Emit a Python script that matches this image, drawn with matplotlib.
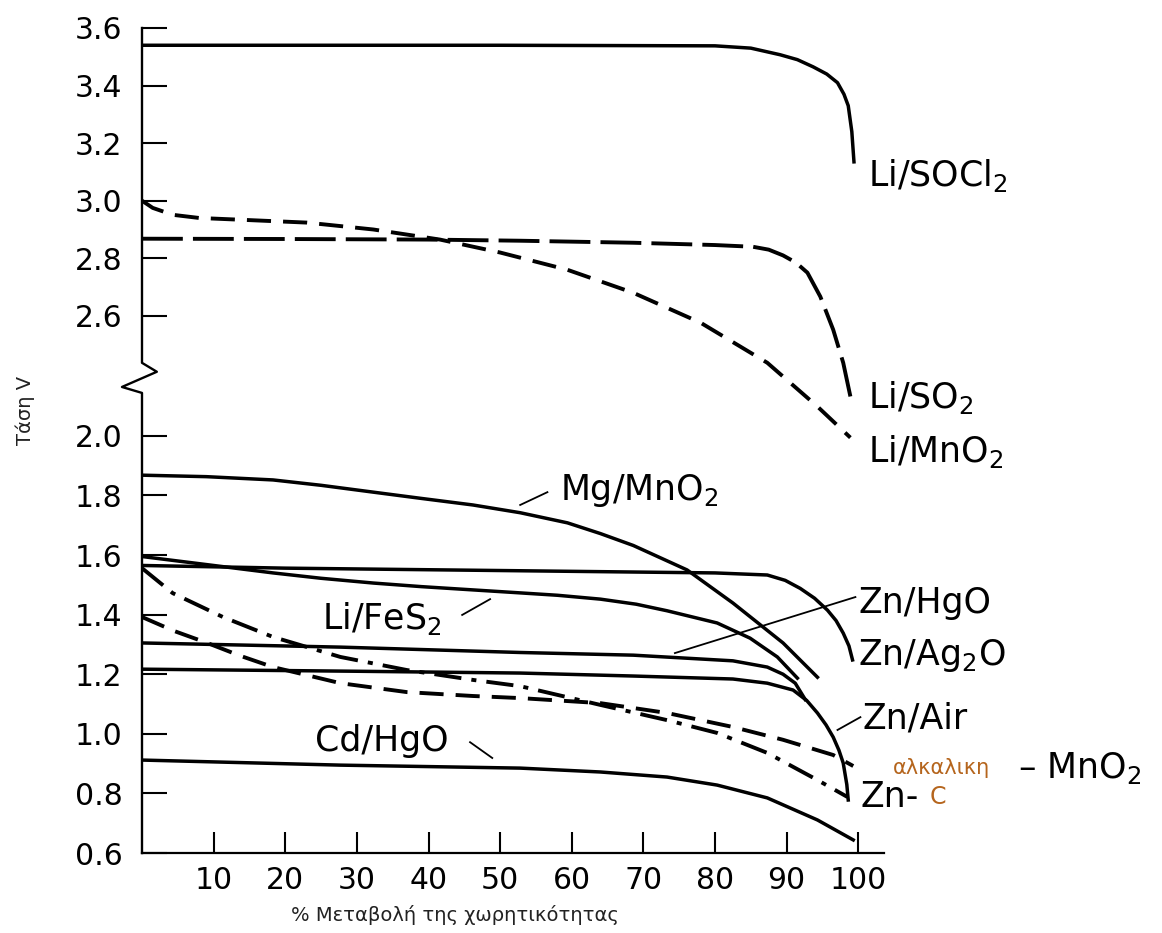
"""
Discharge curves of primary cells — voltage vs % of capacity used.
The y axis is broken between 2.0 V and 2.6 V; the upper curves are
mapped onto the shared axis with upper().
"""

import matplotlib
matplotlib.use("Agg")
import matplotlib.pyplot as plt
import matplotlib.transforms as mtransforms

# ── data (x = % of capacity, v = volts) ──────────────────────────────────────
socl2_x = [0, 50, 80, 85, 89.1, 91.5, 93.7, 95.6, 97.1, 98.0, 98.6, 99.1, 99.4]
socl2_v = [3.54, 3.54, 3.538, 3.53, 3.507, 3.49, 3.465, 3.44, 3.41, 3.37, 3.33, 3.24, 3.135]

so2_x = [0, 20, 40, 52.8, 68.6, 80, 85.3, 87.5, 89.5, 91.3, 92.9, 94.7, 96.5, 97.9, 98.9]
so2_v = [2.868, 2.867, 2.865, 2.861, 2.854, 2.846, 2.84, 2.83, 2.81, 2.785, 2.75, 2.667,
         2.552, 2.437, 2.32]

limno2_x = [0, 1.5, 4.3, 8, 13.7, 23, 32.3, 41.6, 50, 59.4, 68.6, 78, 87.3, 94.3, 98.9]
limno2_v = [3.0, 2.975, 2.951, 2.94, 2.934, 2.924, 2.90, 2.865, 2.82, 2.76, 2.68, 2.576,
            2.437, 2.285, 2.177]

mg_x = [0, 9, 18.3, 25, 32.3, 39, 46.2, 52.8, 59.4, 64, 68.6, 76.1, 82.5, 89.5, 94.3]
mg_v = [1.868, 1.863, 1.852, 1.834, 1.811, 1.79, 1.768, 1.742, 1.708, 1.672, 1.632, 1.55,
        1.439, 1.305, 1.19]

ag2o_x = [0, 20, 50, 68.6, 80, 87.3, 89.8, 91.9, 93.9, 95.7, 96.9, 97.9, 98.7, 99.2]
ag2o_v = [1.565, 1.556, 1.548, 1.543, 1.54, 1.533, 1.515, 1.488, 1.455, 1.415, 1.38,
          1.338, 1.295, 1.248]

fes2_x = [0, 5, 10, 18.3, 25, 32.3, 39, 46.2, 52.8, 58, 64, 69, 73.3, 80.3, 84.9, 88.7, 91.5]
fes2_v = [1.595, 1.58, 1.565, 1.54, 1.522, 1.506, 1.494, 1.483, 1.473, 1.465, 1.452, 1.435,
          1.413, 1.372, 1.321, 1.258, 1.187]

hgo_x = [0, 27.7, 52.8, 68.6, 82.5, 87.3, 89.5, 91.2, 92.6]
hgo_v = [1.305, 1.291, 1.273, 1.264, 1.245, 1.224, 1.20, 1.17, 1.115]

air_x = [0, 30, 52.8, 68.6, 82.5, 87.3, 90.9, 92.8, 94.3, 95.5, 96.5, 97.3, 97.9, 98.4, 98.6]
air_v = [1.217, 1.21, 1.204, 1.194, 1.184, 1.17, 1.147, 1.112, 1.07, 1.03, 0.989, 0.945,
         0.902, 0.83, 0.778]

cd_x = [0, 27.7, 52.8, 64, 73.3, 80.3, 87.3, 94.3, 99.3]
cd_v = [0.912, 0.895, 0.885, 0.872, 0.855, 0.828, 0.785, 0.711, 0.644]

alk_x = [0, 4.5, 9.1, 13.7, 18.3, 27.7, 37, 46.2, 52.8, 64, 73.3, 82.5, 89.5, 96.5, 99.3]
alk_v = [1.392, 1.345, 1.305, 1.262, 1.224, 1.17, 1.14, 1.127, 1.12, 1.103, 1.07, 1.023,
         0.98, 0.929, 0.892]

znc_x = [0, 4.3, 11.3, 18.3, 27.7, 37, 46.2, 52.8, 64, 73.3, 80.3, 87.3, 94.3, 98.5]
znc_v = [1.556, 1.472, 1.392, 1.325, 1.258, 1.214, 1.181, 1.16, 1.097, 1.046, 1.003,
         0.936, 0.845, 0.788]

x_ticks = [10, 20, 30, 40, 50, 60, 70, 80, 90, 100]
lower_ticks = [0.6, 0.8, 1.0, 1.2, 1.4, 1.6, 1.8, 2.0]
upper_ticks = [2.6, 2.8, 3.0, 3.2, 3.4, 3.6]


def upper(v):
    """Map a voltage of the upper (broken) part onto the shared axis."""
    if isinstance(v, list):
        return [upper(a) for a in v]
    return 2.789 + (v - 3.0) * 0.966


ORANGE = "#B5651D"
LW = 2.5
DLW = 2.8
LONG_DASH = (0, (10.5, 2.6))
SHORT_DASH = (0, (6.2, 3.1))
DASH_DOT = (0, (7.0, 2.6, 1.3, 2.6))

plt.rcParams.update({"font.family": "DejaVu Sans"})

fig = plt.figure(figsize=(11.62, 9.33), dpi=100)
ax = fig.add_axes([0.1222, 0.0857, 0.6386, 0.8843])

# upper group
ax.plot(socl2_x, upper(socl2_v), color="black", lw=LW)
ax.plot(so2_x, upper(so2_v), color="black", lw=DLW, linestyle=LONG_DASH)
ax.plot(limno2_x, upper(limno2_v), color="black", lw=DLW, linestyle=SHORT_DASH)

# lower group
ax.plot(mg_x, mg_v, color="black", lw=LW)
ax.plot(ag2o_x, ag2o_v, color="black", lw=LW)
ax.plot(fes2_x, fes2_v, color="black", lw=LW)
ax.plot(hgo_x, hgo_v, color="black", lw=LW)
ax.plot(air_x, air_v, color="black", lw=LW)
ax.plot(cd_x, cd_v, color="black", lw=LW)
ax.plot(alk_x, alk_v, color="black", lw=DLW, linestyle=SHORT_DASH)
ax.plot(znc_x, znc_v, color="black", lw=DLW, linestyle=DASH_DOT)

ax.set_xlim(0, 103.6)
ax.set_ylim(0.6, upper(3.6))

ax.set_xticks(x_ticks)
ax.set_xticklabels([str(t) for t in x_ticks])
ax.set_yticks(lower_ticks + upper(upper_ticks))
ax.set_yticklabels([f"{t:.1f}" for t in lower_ticks + upper_ticks])
ax.tick_params(axis="y", direction="in", length=18, width=1.5, pad=14, labelsize=21.5)
ax.tick_params(axis="x", direction="in", length=15, width=1.5, pad=9, labelsize=21.5)

for side in ("top", "right", "left"):
    ax.spines[side].set_visible(False)
ax.spines["bottom"].set_linewidth(1.6)

# left spine with the zig-zag break
trans = mtransforms.blended_transform_factory(ax.transAxes, ax.transData)
spine_x = [0, 0, -0.027, 0.020, 0, 0]
spine_y = [0.6, 2.144, 2.164, 2.215, 2.245, upper(3.6)]
ax.plot(spine_x, spine_y, color="black", lw=1.7, transform=trans, clip_on=False)

# curve labels
LBL = 25
ax.text(101.4, 2.875, r"Li/SOCl$_2$", fontsize=LBL, va="center")
ax.text(101.4, 2.127, r"Li/SO$_2$", fontsize=LBL, va="center")
ax.text(101.4, 1.946, r"Li/MnO$_2$", fontsize=LBL, va="center")
ax.text(100.0, 1.439, "Zn/HgO", fontsize=LBL, va="center")
ax.text(100.0, 1.264, r"Zn/Ag$_2$O", fontsize=LBL, va="center")
ax.text(100.6, 1.053, "Zn/Air", fontsize=LBL, va="center")
ax.text(104.9, 0.885, "αλκαλικη", fontsize=15, color=ORANGE, va="center")
ax.text(122.3, 0.885, r"– MnO$_2$", fontsize=LBL, va="center")
ax.text(100.3, 0.788, "Zn-", fontsize=LBL, va="center")
ax.text(110.0, 0.788, "C", fontsize=17, color=ORANGE, va="center")
ax.text(58.4, 1.818, r"Mg/MnO$_2$", fontsize=LBL, va="center")
ax.text(25.1, 1.388, r"Li/FeS$_2$", fontsize=LBL, va="center")
ax.text(24.2, 0.976, "Cd/HgO", fontsize=LBL, va="center")

# leader lines
ax.plot([52.8, 56.6], [1.768, 1.811], color="black", lw=1.3)
ax.plot([44.7, 48.6], [1.399, 1.452], color="black", lw=1.3)
ax.plot([45.8, 48.9], [0.972, 0.919], color="black", lw=1.3)
ax.plot([74.4, 99.6], [1.271, 1.459], color="black", lw=1.3, clip_on=False)
ax.plot([97.1, 100.3], [1.013, 1.056], color="black", lw=1.3, clip_on=False)

# axis titles
fig.text(25 / 1162, 1 - 410 / 933, "Τάση V", rotation=90, fontsize=14,
         color="#222222", ha="center", va="center")
fig.text(455 / 1162, 1 - 915 / 933, "% Μεταβολή της χωρητικότητας", fontsize=14,
         color="#222222", ha="center", va="center")

fig.savefig("out.png", dpi=100)
plt.close(fig)
